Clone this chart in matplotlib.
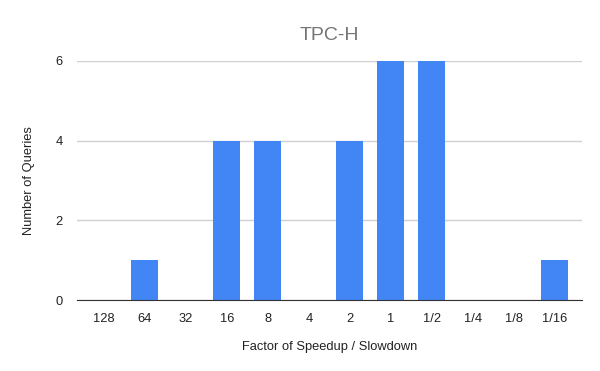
import matplotlib.pyplot as plt

# speedup / slowdown factors and number of queries in each bucket
factors = ['128', '64', '32', '16', '8', '4', '2', '1', '1/2', '1/4', '1/8', '1/16']
queries = [0, 1, 0, 4, 4, 0, 4, 6, 6, 0, 0, 1]
y_ticks = [0, 2, 4, 6]


def main():
    plt.rcParams['font.family'] = ['Liberation Sans', 'DejaVu Sans']
    fig = plt.figure(figsize=(6, 3.71), dpi=100)
    ax = fig.add_axes([0.128, 0.191, 0.842, 0.645])

    x = list(range(len(factors)))
    ax.bar(x, queries, width=0.66, color='#4285F4', zorder=3)

    ax.set_xlim(-0.66, len(factors) - 0.34)
    ax.set_ylim(0, 6)
    ax.set_xticks(x)
    ax.set_xticklabels(factors)
    ax.set_yticks(y_ticks)
    ax.grid(axis='y', color='#d0d0d0', linewidth=1, zorder=0)
    ax.tick_params(length=0, labelsize=9.3, colors='#222222')
    ax.tick_params(axis='x', pad=9)
    ax.tick_params(axis='y', pad=10)

    for side in ['top', 'right', 'left']:
        ax.spines[side].set_visible(False)
    ax.spines['bottom'].set_color('#333333')
    ax.spines['bottom'].set_zorder(4)

    ax.set_title('TPC-H', fontsize=14, color='#757575', pad=15)
    ax.set_xlabel('Factor of Speedup / Slowdown', fontsize=9.3, color='#222222', labelpad=12)
    ax.set_ylabel('Number of Queries', fontsize=9.3, color='#222222', labelpad=15)

    fig.savefig('out.png')


if __name__ == '__main__':
    main()
